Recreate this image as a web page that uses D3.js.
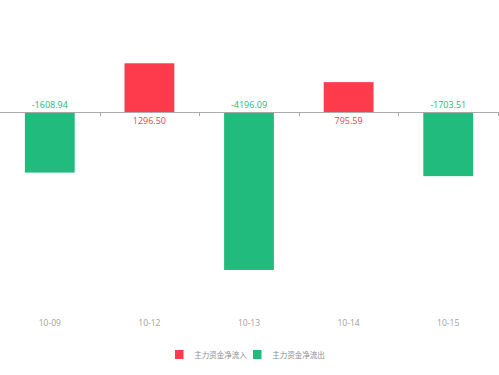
<!DOCTYPE html>
<html><head><meta charset="utf-8">
<script src="https://cdn.jsdelivr.net/npm/d3@7/dist/d3.min.js"></script>
<style>body{margin:0;background:#fff;}svg{display:block;font-family:"Open Sans","Noto Sans CJK SC",sans-serif;}</style>
</head><body>
<svg id="c" width="499" height="375"></svg>
<script>
const categories = ["10-09","10-12","10-13","10-14","10-15"];
const values = [-1608.94, 1296.50, -4196.09, 795.59, -1703.51];
const legendLabels = ["主力资金净流入","主力资金净流出"];

const red = "#fe3b4d", green = "#20bb7d";
const redText = "#e5454f", greenText = "#25b67d";
const svg = d3.select("#c");

const x = d3.scaleBand().domain(categories).range([0, 498]).padding(0);
const y = d3.scaleLinear().domain([-5000, 2000]).range([300.2, 36.8]);

// bars
svg.selectAll("rect.bar").data(values).enter().append("rect")
  .attr("x", (d,i) => x(categories[i]) + x.bandwidth()*0.25)
  .attr("width", x.bandwidth()*0.5)
  .attr("y", d => y(Math.max(0,d)))
  .attr("height", d => Math.abs(y(d)-y(0)))
  .attr("fill", d => d >= 0 ? red : green);

// zero axis line with ticks
const ax = svg.append("g").attr("transform", `translate(0,${y(0)})`);
ax.append("line").attr("x1",0).attr("x2",498).attr("y1",0.5).attr("y2",0.5)
  .attr("stroke","#a8a8a8").attr("stroke-width",1);
const bounds = categories.map(c => x(c)).concat([x.range()[1]]);
ax.selectAll("line.t").data(bounds.slice(1)).enter().append("line")
  .attr("x1", d => Math.round(d)+0.5).attr("x2", d => Math.round(d)+0.5)
  .attr("y1",0).attr("y2",4).attr("stroke","#a8a8a8");

// value labels
svg.selectAll("text.v").data(values).enter().append("text")
  .attr("x", (d,i) => x(categories[i]) + x.bandwidth()/2)
  .attr("y", d => d >= 0 ? y(0) + 12 : y(0) - 4)
  .attr("text-anchor","middle")
  .attr("font-size", 9)
  .attr("fill", d => d >= 0 ? redText : greenText)
  .text(d => d.toFixed(2));

// category labels at bottom
svg.selectAll("text.c").data(categories).enter().append("text")
  .attr("x", d => x(d) + x.bandwidth()/2)
  .attr("y", 325.5)
  .attr("text-anchor","middle")
  .attr("font-size", 8.5)
  .attr("fill","#a0a0a0")
  .text(d => d);

// legend
const lg = svg.append("g");
const legendX = [175, 253];
legendLabels.forEach((t,i) => {
  lg.append("rect").attr("x", legendX[i]).attr("y", 350).attr("width", 8.5).attr("height", 9)
    .attr("fill", i===0 ? red : green);
  lg.append("text").attr("x", legendX[i] + 19.3).attr("y", 357.8)
    .attr("font-size", 7.5).attr("fill","#8e8e8e").text(t);
});
</script>
</body></html>
